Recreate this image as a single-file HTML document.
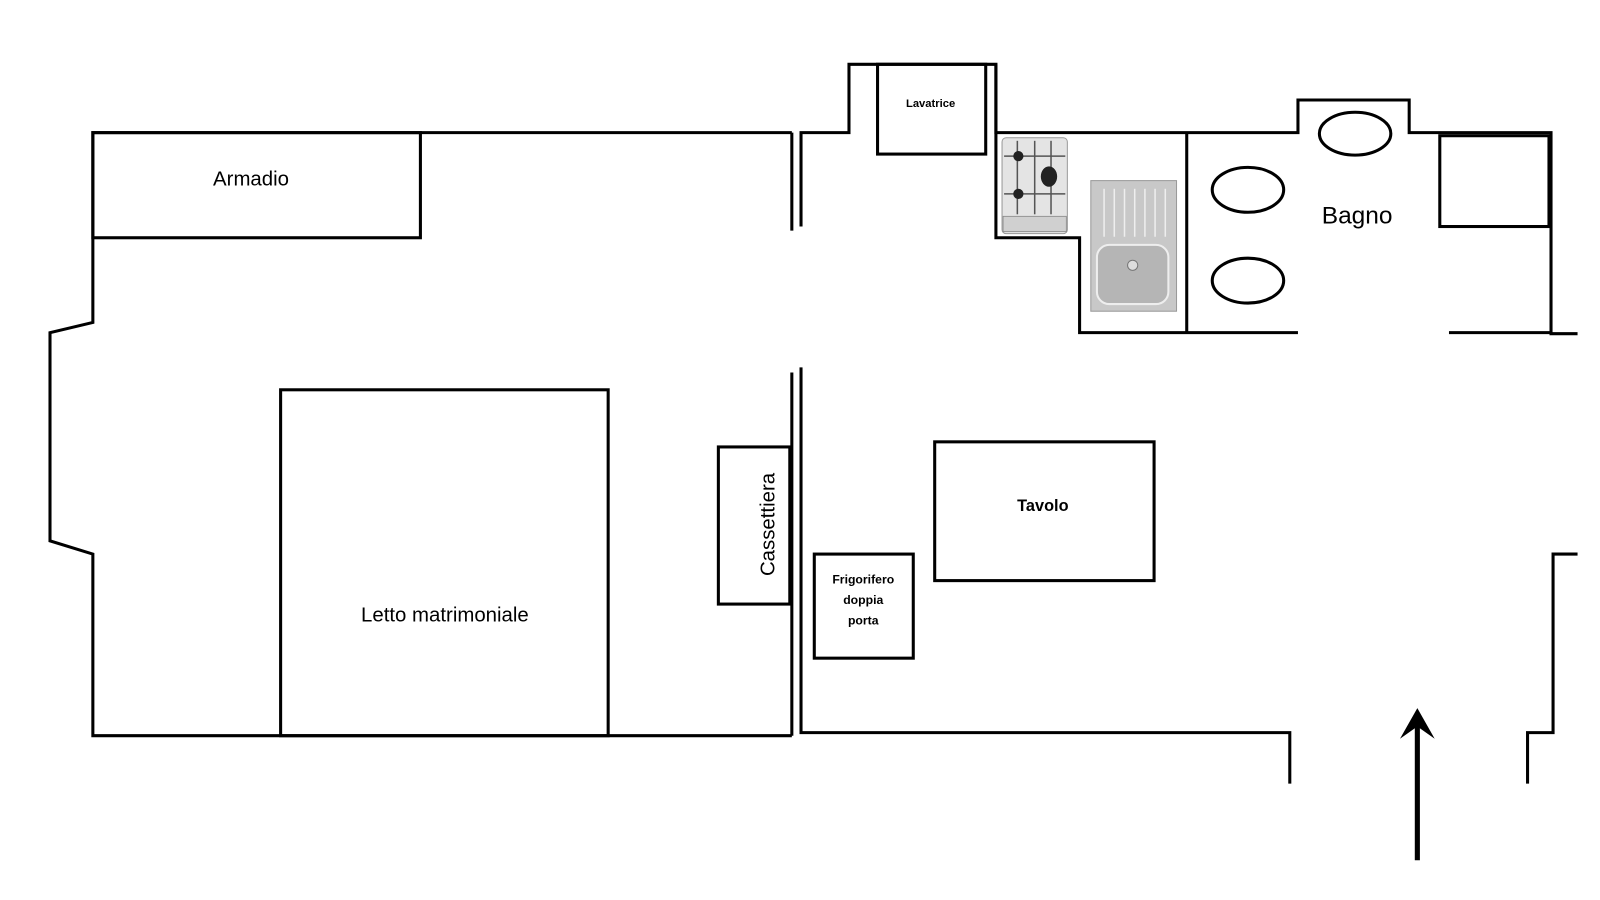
<!DOCTYPE html>
<html><head><style>html,body{margin:0;padding:0;background:#fff;}svg{display:block;}</style></head>
<body>
<svg width="1600" height="900" viewBox="0 0 1568 882" preserveAspectRatio="none" xmlns="http://www.w3.org/2000/svg" font-family="Liberation Sans, sans-serif">
<g fill="none" stroke="#000" stroke-width="3">
<!-- left room -->
<polyline points="776,130 91,130 91,316 49,326 49,530 91,543 91,721 776,721"/>
<line x1="776" y1="130" x2="776" y2="226"/>
<line x1="776" y1="365" x2="776" y2="721"/>
<!-- kitchen/top -->
<polyline points="785,222 785,130 832,130 832,63 976,63 976,130 1272,130 1272,98 1381,98 1381,130 1520,130 1520,327 1546,327"/>
<polyline points="976,63 976,233 1058,233 1058,326 1272,326"/>
<line x1="1163" y1="130" x2="1163" y2="326"/>
<line x1="1420" y1="326" x2="1520" y2="326"/>
<rect x="1411" y="133" width="107" height="89"/>
<rect x="860" y="63" width="106" height="88"/>
<ellipse cx="1223" cy="186" rx="35" ry="22"/>
<ellipse cx="1223" cy="275" rx="35" ry="22"/>
<ellipse cx="1328" cy="131" rx="35" ry="21"/>
<!-- lower -->
<polyline points="785,360 785,718 1264,718 1264,768"/>
<polyline points="1546,543 1522,543 1522,718 1497,718 1497,768"/>
<!-- furniture -->
<rect x="91" y="130" width="321" height="103"/>
<rect x="275" y="382" width="321" height="339"/>
<rect x="704" y="438" width="70" height="154"/>
<rect x="798" y="543" width="97" height="102"/>
<rect x="916" y="433" width="215" height="136"/>
</g>
<!-- arrow -->
<line x1="1389" y1="843" x2="1389" y2="710" stroke="#000" stroke-width="5"/>
<polygon points="1389,694 1372,724 1389,712 1406,724" fill="#000"/>
<!-- stove -->
<rect x="982" y="135" width="64" height="94" rx="4" fill="#e4e4e4" stroke="#999" stroke-width="1"/>
<g stroke="#555" stroke-width="1.5"><line x1="997" y1="138" x2="997" y2="210"/><line x1="1014" y1="138" x2="1014" y2="210"/><line x1="1030" y1="138" x2="1030" y2="210"/><line x1="984" y1="153" x2="1044" y2="153"/><line x1="984" y1="190" x2="1044" y2="190"/></g>
<circle cx="998" cy="153" r="5" fill="#222"/><circle cx="998" cy="190" r="5" fill="#222"/><ellipse cx="1028" cy="173" rx="8" ry="10" fill="#222"/>
<rect x="983" y="212" width="62" height="15" fill="#d0d0d0" stroke="#888" stroke-width="0.8"/>
<!-- sink -->
<rect x="1069" y="177" width="84" height="128" fill="#c8c8c8" stroke="#999" stroke-width="1"/>
<g stroke="#eee" stroke-width="1.5"><line x1="1082" y1="185" x2="1082" y2="232"/><line x1="1092" y1="185" x2="1092" y2="232"/><line x1="1102" y1="185" x2="1102" y2="232"/><line x1="1112" y1="185" x2="1112" y2="232"/><line x1="1122" y1="185" x2="1122" y2="232"/><line x1="1132" y1="185" x2="1132" y2="232"/><line x1="1142" y1="185" x2="1142" y2="232"/></g>
<rect x="1075" y="240" width="70" height="58" rx="12" fill="#b5b5b5" stroke="#eee" stroke-width="2"/>
<circle cx="1110" cy="260" r="5" fill="#ddd" stroke="#777"/>
<!-- labels -->
<text x="246" y="182" font-size="20" text-anchor="middle">Armadio</text>
<text x="436" y="609" font-size="20" text-anchor="middle">Letto matrimoniale</text>
<text x="1330" y="219" font-size="24" text-anchor="middle">Bagno</text>
<text transform="translate(759,514) rotate(-90)" font-size="20" text-anchor="middle">Cassettiera</text>
<text x="1022" y="501" font-size="16" font-weight="bold" text-anchor="middle">Tavolo</text>
<text x="846" y="572" font-size="12" font-weight="bold" text-anchor="middle">Frigorifero</text>
<text x="846" y="592" font-size="12" font-weight="bold" text-anchor="middle">doppia</text>
<text x="846" y="612" font-size="12" font-weight="bold" text-anchor="middle">porta</text>
<text x="912" y="105" font-size="11" font-weight="bold" text-anchor="middle">Lavatrice</text>
</svg>
</body></html>
